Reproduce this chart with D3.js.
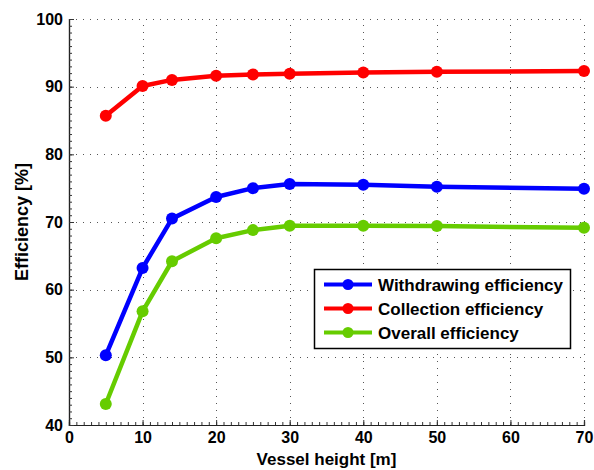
<!DOCTYPE html>
<html>
<head>
<meta charset="utf-8">
<script src="https://cdn.jsdelivr.net/npm/d3@7"></script>
<style>
  body { margin: 0; background: #fff; }
  text { font-family: "Liberation Sans", Arial, sans-serif; font-weight: bold; }
</style>
</head>
<body>
<div id="chart"></div>
<script>
// vessel heights [m]
const heights = [5, 10, 14, 20, 25, 30, 40, 50, 70];
// efficiencies [%]
const withdrawing = [50.3, 63.2, 70.5, 73.7, 75.0, 75.6, 75.5, 75.2, 74.9];
const collection = [85.7, 90.1, 91.0, 91.6, 91.8, 91.9, 92.1, 92.2, 92.3];
const overall = [43.1, 56.8, 64.2, 67.6, 68.8, 69.45, 69.45, 69.4, 69.15];
const seriesNames = ["Withdrawing efficiency", "Collection efficiency", "Overall efficiency"];
const seriesColors = ["#0000ff", "#ff0000", "#66cc00"];
const xTicks = [0, 10, 20, 30, 40, 50, 60, 70];
const yTicks = [40, 50, 60, 70, 80, 90, 100];

function drawChart(id) {
  const w = 594;
  const h = 470;
  const left = 69, right = 584, top = 19, bottom = 425;

  const svg = d3.select(`#${id}`)
    .append("svg")
    .attr("width", w)
    .attr("height", h);

  const xScale = d3.scaleLinear().domain([0, 70]).range([left, right]);
  const yScale = d3.scaleLinear().domain([40, 100]).range([bottom, top]);

  // dotted grid
  const grid = svg.append("g").attr("stroke", "#555").attr("stroke-width", 1)
    .attr("stroke-dasharray", "1,6");
  grid.selectAll(".gx").data(xTicks.slice(1)).enter().append("line")
    .attr("x1", d => Math.round(xScale(d)) + 0.5).attr("x2", d => Math.round(xScale(d)) + 0.5)
    .attr("y1", bottom).attr("y2", top);
  grid.selectAll(".gy").data(yTicks.slice(1)).enter().append("line")
    .attr("y1", d => Math.round(yScale(d)) + 0.5).attr("y2", d => Math.round(yScale(d)) + 0.5)
    .attr("x1", left).attr("x2", right);

  // axes with inward ticks
  const xAxis = svg.append("g")
    .attr("transform", `translate(0,${bottom})`)
    .call(d3.axisBottom(xScale).tickValues(xTicks).tickSize(-5).tickPadding(7).tickFormat(d3.format("d")));
  const xMinor = svg.append("g")
    .attr("transform", `translate(0,${bottom})`)
    .call(d3.axisBottom(xScale).tickValues(d3.range(0, 71, 1)).tickSize(-3).tickFormat(""));
  const yAxis = svg.append("g")
    .attr("transform", `translate(${left},0)`)
    .call(d3.axisLeft(yScale).tickValues(yTicks).tickSize(-5).tickPadding(6).tickFormat(d3.format("d")));
  const yMinor = svg.append("g")
    .attr("transform", `translate(${left},0)`)
    .call(d3.axisLeft(yScale).tickValues(d3.range(40, 101, 1)).tickSize(-3).tickFormat(""));

  [xAxis, xMinor, yAxis, yMinor].forEach(g => {
    g.select(".domain").attr("stroke", "#222").attr("stroke-width", 1.2);
    g.selectAll(".tick line").attr("stroke", "#333");
    g.selectAll("text").attr("font-size", 16).attr("fill", "#000");
  });

  // lines and markers
  const seriesData = [withdrawing, collection, overall];
  const line = d3.line().x((d, i) => xScale(heights[i])).y(d => yScale(d));
  seriesData.forEach((vals, k) => {
    svg.append("path").datum(vals)
      .attr("d", line)
      .attr("fill", "none")
      .attr("stroke", seriesColors[k])
      .attr("stroke-width", 4.5)
      .attr("stroke-linejoin", "round");
    svg.selectAll(`.pt${k}`).data(vals).enter().append("circle")
      .attr("cx", (d, i) => xScale(heights[i]))
      .attr("cy", d => yScale(d))
      .attr("r", 6)
      .attr("fill", seriesColors[k]);
  });

  // axis titles
  svg.append("text")
    .attr("x", (left + right) / 2)
    .attr("y", 465)
    .attr("text-anchor", "middle")
    .attr("font-size", 17)
    .text("Vessel height [m]");
  svg.append("text")
    .attr("transform", `translate(28,${(top + bottom) / 2}) rotate(-90)`)
    .attr("text-anchor", "middle")
    .attr("font-size", 18)
    .text("Efficiency [%]");

  // legend
  const legend = svg.append("g");
  legend.append("rect")
    .attr("x", 314.5).attr("y", 269.5).attr("width", 256).attr("height", 79)
    .attr("fill", "#fff").attr("stroke", "#000").attr("stroke-width", 1.5);
  seriesNames.forEach((name, k) => {
    const cy = 284.5 + k * 24;
    legend.append("line")
      .attr("x1", 324).attr("x2", 372).attr("y1", cy).attr("y2", cy)
      .attr("stroke", seriesColors[k]).attr("stroke-width", 4);
    legend.append("circle").attr("cx", 348).attr("cy", cy).attr("r", 5.5)
      .attr("fill", seriesColors[k]);
    legend.append("text")
      .attr("x", 378).attr("y", cy + 6)
      .attr("font-size", 17)
      .text(name);
  });
}

document.addEventListener("DOMContentLoaded", function () {
  drawChart("chart");
});
</script>
</body>
</html>
